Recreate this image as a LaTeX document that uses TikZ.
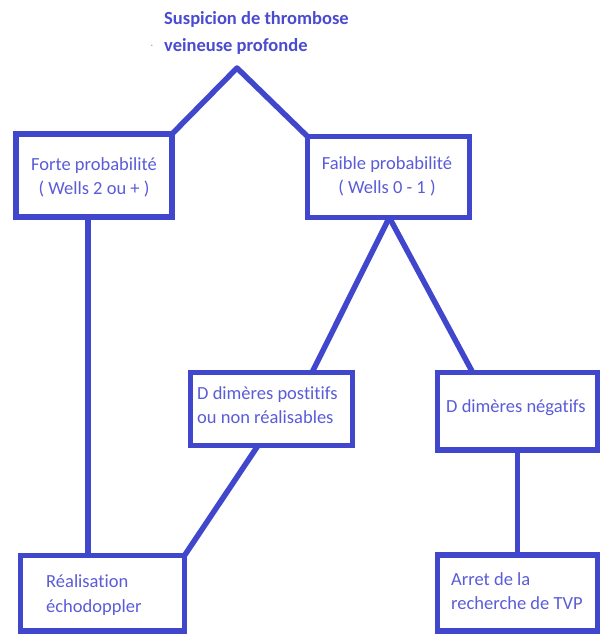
\documentclass[tikz,border=0pt]{standalone}
\usepackage{fontspec}
\setmainfont{Carlito}[Ligatures=NoCommon]
\usetikzlibrary{calc}
\definecolor{linecol}{HTML}{4047CC}
\definecolor{txtcol}{HTML}{5A5CD8}
\definecolor{titlecol}{HTML}{4A4BD0}
\tikzset{
  box/.style={draw=linecol, line width=5.5pt, rectangle, outer sep=0pt, inner sep=0pt, fill=white},
  conn/.style={draw=linecol, line width=5.5pt, line join=round},
  lbl/.style={text=txtcol, inner sep=0pt, font=\fontsize{18.5}{24.5}\selectfont},
  ttl/.style={text=titlecol, inner sep=0pt, font=\fontsize{18.5}{27}\selectfont\bfseries}
}
\begin{document}
\begin{tikzpicture}[x=1pt,y=-1pt]
\useasboundingbox (0,0) rectangle (601,634);
\fill[white] (0,0) rectangle (601,634);
\begin{scope}
\clip (0,0) rectangle (601,634);
% title
\node[ttl, anchor=west] (t1) at (164,19) {Suspicion de thrombose};
\node[ttl, anchor=west] (t2) at (164,46) {veineuse profonde};
\node[text=txtcol!60, inner sep=0pt, font=\fontsize{12}{12}\selectfont] (dot) at (152,46) {.};
\coordinate (apex) at (237,68);
% boxes
\node[box, minimum width=156pt, minimum height=83pt] (forte) at (94,175.5) {};
\node[box, minimum width=162pt, minimum height=81pt] (faible) at (388.5,177) {};
\node[box, minimum width=162pt, minimum height=73pt] (pos) at (271.5,409) {};
\node[box, minimum width=160pt, minimum height=77.5pt] (neg) at (517.5,411.25) {};
\node[box, minimum width=164pt, minimum height=75.5pt] (real) at (102.5,593.25) {};
\node[box, minimum width=160pt, minimum height=76pt] (arret) at (517.5,593) {};
% connectors
\draw[conn] (forte.north east) -- (apex) -- (faible.north west);
\coordinate (fb) at ($(faible.south west)!0.505!(faible.south east)$);
\draw[conn] (fb) -- ($(pos.north west)!0.75!(pos.north east)$);
\draw[conn] (fb) -- ($(neg.north west)!0.22!(neg.north east)$);
\coordinate (f1) at ($(forte.south west)!0.46!(forte.south east)$);
\draw[conn] (f1) -- (f1 |- real.north);
\draw[conn] ($(pos.south west)!0.417!(pos.south east)$) -- (real.north east);
\draw[conn] (neg.south) -- (neg.south |- arret.north);
% texts
\node[lbl, align=center] (tforte) at (94,177.5) {Forte probabilité\\ ( Wells 2 ou + )};
\node[lbl, align=center] (tfaible) at (387,176.5) {Faible probabilité\\ ( Wells 0 - 1 )};
\node[lbl, align=left, anchor=west] (tpos) at (197,405) {D dimères postitifs\\ou non réalisables};
\node[lbl, align=left, anchor=west] (tneg) at (446,408) {D dimères négatifs};
\node[lbl, align=left, anchor=west] (treal) at (46,595) {Réalisation\\ échodoppler};
\node[lbl, align=left, anchor=west] (tarret) at (451,591) {Arret de la\\recherche de TVP};
\end{scope}
\end{tikzpicture}
\end{document}
